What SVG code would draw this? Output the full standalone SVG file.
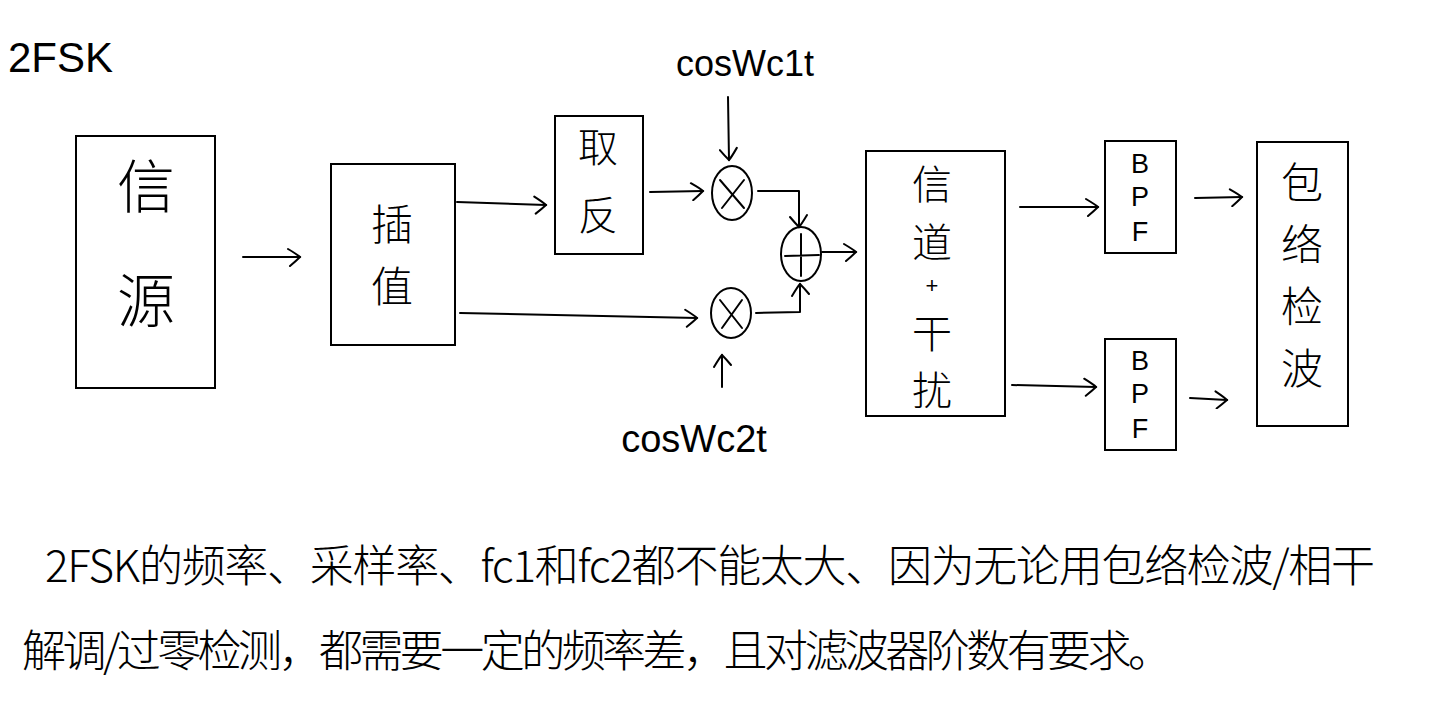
<svg xmlns="http://www.w3.org/2000/svg" width="1434" height="705" viewBox="0 0 1434 705">
<style>
.box{fill:#fff;stroke:#000;stroke-width:2}
.circ{fill:none;stroke:#000;stroke-width:2}
.ln{fill:none;stroke:#000;stroke-width:2;stroke-linecap:round;stroke-linejoin:round}
.t{font-family:"Noto Sans CJK SC","Liberation Sans",sans-serif;fill:#000;text-anchor:middle;font-weight:300}
.lbl{font-family:"Liberation Sans","Noto Sans CJK SC",sans-serif;fill:#000;font-weight:normal}
.c{text-anchor:middle}
.note{font-family:"Noto Sans CJK SC","Liberation Sans",sans-serif;fill:#000;font-size:44px;font-weight:300}
</style>
<defs>
<marker id="arr" viewBox="0 0 20 20" refX="18" refY="10" markerWidth="20" markerHeight="20" markerUnits="userSpaceOnUse" orient="auto">
<path d="M6 2 Q16 8 18 10 Q14 14 8 19" fill="none" stroke="#000" stroke-width="2" stroke-linecap="round"/>
</marker>
</defs>
<rect width="1434" height="705" fill="#fff"/>
<text class="lbl" x="8" y="72" font-size="42">2FSK</text>
<g id="connectors">
<path class="ln" d="M243 257 L300 257" marker-end="url(#arr)"/>
<path class="ln" d="M457 202 L546 205" marker-end="url(#arr)"/>
<path class="ln" d="M460 313 L697 318" marker-end="url(#arr)"/>
<path class="ln" d="M650 192 L703 191" marker-end="url(#arr)"/>
<path class="ln" d="M728 97 L729 160" marker-end="url(#arr)"/>
<path class="ln" d="M722 387 L722 355" marker-end="url(#arr)"/>
<path class="ln" d="M758 191 L799 191 L799 227" marker-end="url(#arr)"/>
<path class="ln" d="M756 313 L800 312 L800 284" marker-end="url(#arr)"/>
<path class="ln" d="M822 252 L856 252" marker-end="url(#arr)"/>
<path class="ln" d="M1020 207 L1098 207" marker-end="url(#arr)"/>
<path class="ln" d="M1012 385 L1096 387" marker-end="url(#arr)"/>
<path class="ln" d="M1195 198 L1242 197" marker-end="url(#arr)"/>
<path class="ln" d="M1190 398 L1227 400" marker-end="url(#arr)"/>
</g>
<g id="source">
<rect class="box" x="76" y="136" width="139" height="252"/>
<text class="t" font-size="58"><tspan x="146" y="208">信</tspan><tspan x="146" y="322">源</tspan></text>
</g>
<g id="interp">
<rect class="box" x="331" y="164" width="124" height="181"/>
<text class="t" font-size="42"><tspan x="392" y="240">插</tspan><tspan x="392" y="302">值</tspan></text>
</g>
<g id="invert">
<rect class="box" x="555" y="116" width="88" height="138"/>
<text class="t" font-size="40"><tspan x="598" y="162">取</tspan><tspan x="598" y="230">反</tspan></text>
</g>
<g id="mult1">
<ellipse class="circ" cx="732" cy="193" rx="20" ry="27"/>
<path class="ln" d="M720 180 L744 208 M744 180 L722 208"/>
</g>
<g id="mult2">
<ellipse class="circ" cx="731" cy="313" rx="20" ry="25"/>
<path class="ln" d="M720 300 L742 328 M742 300 L722 328"/>
</g>
<g id="adder">
<ellipse class="circ" cx="801" cy="254" rx="20" ry="27"/>
<path class="ln" d="M785 256 L819 255 M801 234 L801 276"/>
</g>
<text class="lbl c" x="745" y="76" font-size="36">cosWc1t</text>
<text class="lbl c" x="694" y="452" font-size="38">cosWc2t</text>
<g id="channel">
<rect class="box" x="866" y="151" width="139" height="265"/>
<text class="t" font-size="40"><tspan x="932" y="199">信</tspan><tspan x="932" y="257">道</tspan></text>
<text class="lbl c" x="932" y="293" font-size="22">+</text>
<text class="t" font-size="40"><tspan x="932" y="348">干</tspan><tspan x="932" y="405">扰</tspan></text>
</g>
<g id="bpf1">
<rect class="box" x="1105" y="141" width="71" height="112"/>
<text class="lbl c" font-size="27"><tspan x="1140" y="173">B</tspan><tspan x="1140" y="206">P</tspan><tspan x="1140" y="241">F</tspan></text>
</g>
<g id="bpf2">
<rect class="box" x="1105" y="339" width="71" height="111"/>
<text class="lbl c" font-size="27"><tspan x="1140" y="370">B</tspan><tspan x="1140" y="403">P</tspan><tspan x="1140" y="438">F</tspan></text>
</g>
<g id="envdet">
<rect class="box" x="1257" y="142" width="91" height="284"/>
<text class="t" font-size="42"><tspan x="1302" y="198">包</tspan><tspan x="1302" y="260">络</tspan><tspan x="1302" y="322">检</tspan><tspan x="1302" y="384">波</tspan></text>
</g>
<text class="note" x="45" y="582" textLength="1330" lengthAdjust="spacing">2FSK的频率、采样率、fc1和fc2都不能太大、因为无论用包络检波/相干</text>
<text class="note" x="22" y="667" textLength="1150" lengthAdjust="spacing">解调/过零检测，都需要一定的频率差，且对滤波器阶数有要求。</text>
</svg>
